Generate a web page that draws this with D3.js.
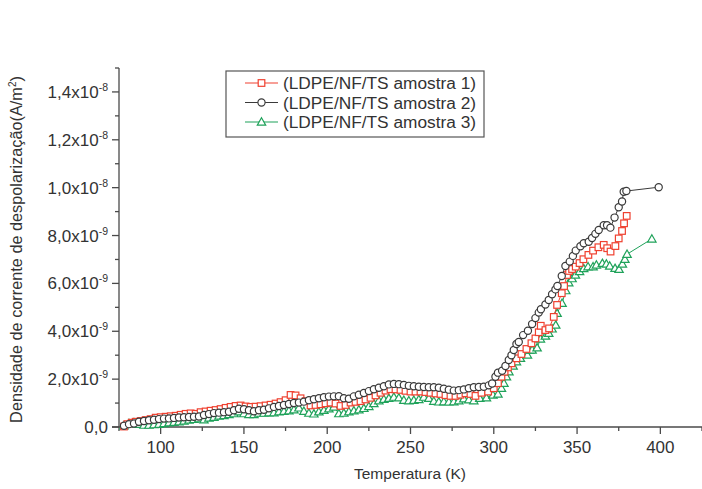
<!DOCTYPE html>
<html><head><meta charset="utf-8">
<script src="https://cdn.jsdelivr.net/npm/d3@7"></script>
<style>
html,body{margin:0;padding:0;background:#fff;}
svg{display:block;font-family:"Liberation Sans",Arial,sans-serif;}
</style></head>
<body><div id="chart"></div>
<script>
// ---- data (current density in units of 1e-9 A/m^2) ----
const seriesNames = ["(LDPE/NF/TS amostra 1)", "(LDPE/NF/TS amostra 2)", "(LDPE/NF/TS amostra 3)"];

const temp1 = [78,80,82.6,85,88,91,94,97,100,103,106,109,112,115,118,121,124,127,130,133,136,139,142,145,148,151,154,157,160,163,166,169,172,175,178,181,184,187,190,193,196,199,202,205,208,211,214,217,220,223,226,229,232,235,238,241,244,247,250,253,256,259,262,265,268,271,274,277,280,283,286,289,292.6,296.6,300,302.5,304.6,306.5,308.5,310.6,313.6,316.6,319.6,322.6,325,327,328.2,331,333.2,336,338,340.8,342.2,344,345.2,347,349.2,351.5,353.8,356.8,359.6,362.8,366,368.1,370.1,373,375,377,378.2,379.8];
const vals1 = [0.02,0.12,0.18,0.22,0.25,0.29,0.33,0.39,0.41,0.43,0.45,0.47,0.51,0.55,0.57,0.55,0.62,0.65,0.68,0.71,0.75,0.80,0.84,0.88,0.90,0.86,0.84,0.85,0.87,0.90,0.93,0.98,1.04,1.12,1.34,1.32,1.20,1.08,0.90,0.92,0.95,0.99,1.02,0.98,0.88,0.92,1.02,1.05,1.08,1.15,1.22,1.32,1.43,1.52,1.58,1.57,1.55,1.51,1.48,1.48,1.48,1.46,1.43,1.40,1.38,1.33,1.30,1.30,1.35,1.41,1.38,1.30,1.43,1.48,1.62,1.83,2.10,2.31,2.49,2.66,2.87,3.05,3.26,3.50,3.70,3.96,4.23,4.05,4.12,4.60,5.10,5.59,5.89,6.35,6.52,6.60,6.70,6.85,7.01,7.19,7.37,7.51,7.61,7.47,7.33,7.56,7.88,8.19,8.51,8.82];

const temp2 = [78,81,84,87,90,93,96,99,102,105,108,111,114,117,120,123,126,129,132,135,138,141,144,147,150,153,156,159,162,165,168,171,174,177,180,183,186,189,192,195,198,201,204,207,210,213,216,219,222,225,228,231,234,237,240,243,246,249,252,255,258,261,264,267,270,273,276,279,282,285,288,291,294,297,299,301,302.5,305,307,309,310.6,312,313.6,315,317.6,320.5,323,325,327,328.3,331,333,335,337,338.2,340.8,343,345.6,347.5,349.2,352,354,357,359,361,363,366,368,370,372.5,375,377,378,379.6,399];
const vals2 = [0.05,0.12,0.15,0.22,0.25,0.28,0.30,0.33,0.35,0.36,0.38,0.40,0.41,0.42,0.43,0.44,0.50,0.54,0.58,0.60,0.62,0.64,0.70,0.76,0.74,0.70,0.66,0.70,0.72,0.78,0.84,0.88,0.92,0.96,1.00,1.02,1.06,1.12,1.16,1.20,1.24,1.27,1.28,1.29,1.20,1.18,1.28,1.35,1.42,1.50,1.58,1.64,1.70,1.78,1.80,1.79,1.76,1.72,1.70,1.68,1.67,1.66,1.66,1.64,1.60,1.56,1.52,1.54,1.57,1.62,1.66,1.67,1.68,1.74,1.82,2.10,2.27,2.35,2.55,2.80,3.00,3.22,3.47,3.55,3.84,4.02,4.30,4.55,4.78,4.92,5.12,5.31,5.55,5.75,5.89,6.31,6.73,6.91,7.15,7.37,7.55,7.68,7.74,7.90,8.07,8.23,8.43,8.43,8.33,8.75,9.18,9.42,9.83,9.86,10.02];

const temp3 = [78,81,84,87,90,93,96,99,102,105,108,111,114,117,120,123,126,129,132,135,138,141,144,147,150,153,156,159,162,165,168,171,174,177,180,183,186,189,192,195,198,201,204,207,210,213,216,219,222,225,228,231,234,237,240,243,246,249,252,255,258,261,264,267,270,273,276,279,282,285,288,291.6,295.6,299.5,302.5,304.6,306.1,307.6,309.1,311.6,313.6,316,318.6,320.2,321.6,323,326,328,331,333,335,337.2,338,341,343.2,345,347,349,351.5,354,356.6,359.6,361.6,365.2,367.6,369.6,372.8,375.2,377.2,378.7,380,394.9];
const vals3 = [0.05,0.15,0.18,0.12,0.08,0.08,0.10,0.12,0.15,0.18,0.20,0.22,0.25,0.29,0.32,0.35,0.30,0.38,0.41,0.46,0.48,0.52,0.56,0.64,0.56,0.52,0.52,0.58,0.58,0.60,0.60,0.64,0.66,0.68,0.72,0.80,0.66,0.58,0.55,0.64,0.70,0.76,0.84,0.56,0.58,0.64,0.68,0.72,0.78,0.86,0.98,1.10,1.16,1.20,1.25,1.22,1.12,1.10,1.12,1.15,1.25,1.20,1.08,1.05,1.06,1.05,1.06,1.10,1.18,1.14,1.10,1.20,1.22,1.34,1.38,1.62,1.83,2.10,2.31,2.55,2.73,2.87,3.05,3.01,3.22,3.22,3.31,3.68,3.80,3.92,4.10,4.26,4.75,5.17,5.70,6.03,6.20,6.35,6.50,6.62,6.70,6.70,6.77,6.84,6.81,6.73,6.63,6.59,6.81,7.01,7.22,7.86];

const xTicks = [100,150,200,250,300,350,400];
const xMinorTicks = [75,125,175,225,275,325,375,425];
const yTicks = [0,2,4,6,8,10,12,14];
const yMinorTicks = [1,3,5,7,9,11,13,15];
const yTickMant = ["0,0","2,0","4,0","6,0","8,0","1,0","1,2","1,4"];
const yTickExp  = ["","-9","-9","-9","-9","-8","-8","-8"];
const xTitle = "Temperatura (K)";
const yTitle = "Densidade de corrente de despolarização(A/m";

// ---- layout ----
const W = 702, H = 489;
const colors = ["#ef4130", "#3a3a3a", "#1fa25a"];
const markers = ["square", "circle", "triangle"];
const axisColor = "#4a4a4a";
const textColor = "#333";

const svg = d3.select("#chart").append("svg").attr("width", W).attr("height", H);

const x = d3.scaleLinear().domain([75, 425]).range([119, 702]);
const y = d3.scaleLinear().domain([0, 15]).range([427, 68]);

// axes
const gx = svg.append("g").attr("transform", `translate(0,${y(0)})`);
gx.append("line").attr("x1", 112).attr("x2", W).attr("stroke", axisColor).attr("stroke-width", 1.3);
gx.selectAll(".maj").data(xTicks).join("line")
  .attr("x1", d => x(d)).attr("x2", d => x(d)).attr("y1", 0).attr("y2", 7)
  .attr("stroke", axisColor).attr("stroke-width", 1.3);
gx.selectAll(".min").data(xMinorTicks).join("line")
  .attr("x1", d => x(d)).attr("x2", d => x(d)).attr("y1", 0).attr("y2", 4)
  .attr("stroke", axisColor).attr("stroke-width", 1.3);
gx.selectAll("text").data(xTicks).join("text")
  .attr("x", d => x(d)).attr("y", 26).attr("text-anchor", "middle")
  .attr("font-size", 17).attr("fill", textColor).text(d => d);

const gy = svg.append("g").attr("transform", `translate(${x(75)},0)`);
gy.append("line").attr("y1", y(15)).attr("y2", y(0)).attr("stroke", axisColor).attr("stroke-width", 1.3);
gy.selectAll(".maj").data(yTicks).join("line")
  .attr("x1", -7).attr("x2", 0).attr("y1", d => y(d)).attr("y2", d => y(d))
  .attr("stroke", axisColor).attr("stroke-width", 1.3);
gy.selectAll(".min").data(yMinorTicks).join("line")
  .attr("x1", -4).attr("x2", 0).attr("y1", d => y(d)).attr("y2", d => y(d))
  .attr("stroke", axisColor).attr("stroke-width", 1.3);
const yl = gy.selectAll("text").data(yTicks).join("text")
  .attr("x", -11).attr("y", d => y(d) + 6).attr("text-anchor", "end")
  .attr("font-size", 17).attr("fill", textColor);
yl.each(function(d, i) {
  const t = d3.select(this);
  if (yTickExp[i]) {
    t.append("tspan").text(yTickMant[i] + "x10");
    t.append("tspan").attr("font-size", 10.5).attr("dy", -7).text(yTickExp[i]);
  } else {
    t.append("tspan").text(yTickMant[i]);
  }
});

// titles
svg.append("text").attr("x", 410).attr("y", 479).attr("text-anchor", "middle")
  .attr("font-size", 15.5).attr("fill", textColor).text(xTitle);
const yt = svg.append("text")
  .attr("transform", `translate(22,${(y(0)+y(15))/2 + 2}) rotate(-90)`)
  .attr("text-anchor", "middle").attr("font-size", 16.3).attr("fill", textColor);
yt.append("tspan").text(yTitle);
yt.append("tspan").attr("font-size", 10).attr("dy", -6).text("2");
yt.append("tspan").attr("dy", 6).text(")");

// marker drawing
function drawMarker(g, type, color, cx, cy) {
  if (type === "square") {
    g.append("rect").attr("x", cx - 3.3).attr("y", cy - 3.3).attr("width", 6.6).attr("height", 6.6)
      .attr("fill", "#fff").attr("stroke", color).attr("stroke-width", 1.2);
  } else if (type === "circle") {
    g.append("circle").attr("cx", cx).attr("cy", cy).attr("r", 3.6)
      .attr("fill", "#fff").attr("stroke", color).attr("stroke-width", 1.2);
  } else {
    const s = 4.2;
    g.append("path").attr("d", `M${cx},${cy - s}L${cx + s},${cy + s * 0.75}L${cx - s},${cy + s * 0.75}Z`)
      .attr("fill", "#fff").attr("stroke", color).attr("stroke-width", 1.2);
  }
}

const allT = [temp1, temp2, temp3];
const allV = [vals1, vals2, vals3];
const line = d3.line().x(d => x(d[0])).y(d => y(d[1]));

[2, 0, 1].forEach(si => {
  const pts = allT[si].map((t, i) => [t, allV[si][i]]);
  const g = svg.append("g");
  g.append("path").datum(pts).attr("d", line).attr("fill", "none")
    .attr("stroke", colors[si]).attr("stroke-width", 1);
  pts.forEach(p => drawMarker(g, markers[si], colors[si], x(p[0]), y(p[1])));
});

// legend
const lg = svg.append("g");
lg.append("rect").attr("x", 226).attr("y", 71).attr("width", 258).attr("height", 66)
  .attr("fill", "#fff").attr("stroke", "#555").attr("stroke-width", 1.2);
seriesNames.forEach((name, i) => {
  const cy = 83 + i * 19.5;
  lg.append("line").attr("x1", 245).attr("x2", 278).attr("y1", cy).attr("y2", cy)
    .attr("stroke", colors[i]).attr("stroke-width", 1.2);
  drawMarker(lg, markers[i], colors[i], 261.5, cy);
  lg.append("text").attr("x", 283).attr("y", cy + 6).attr("font-size", 17.3)
    .attr("fill", textColor).text(name);
});
</script></body></html>
